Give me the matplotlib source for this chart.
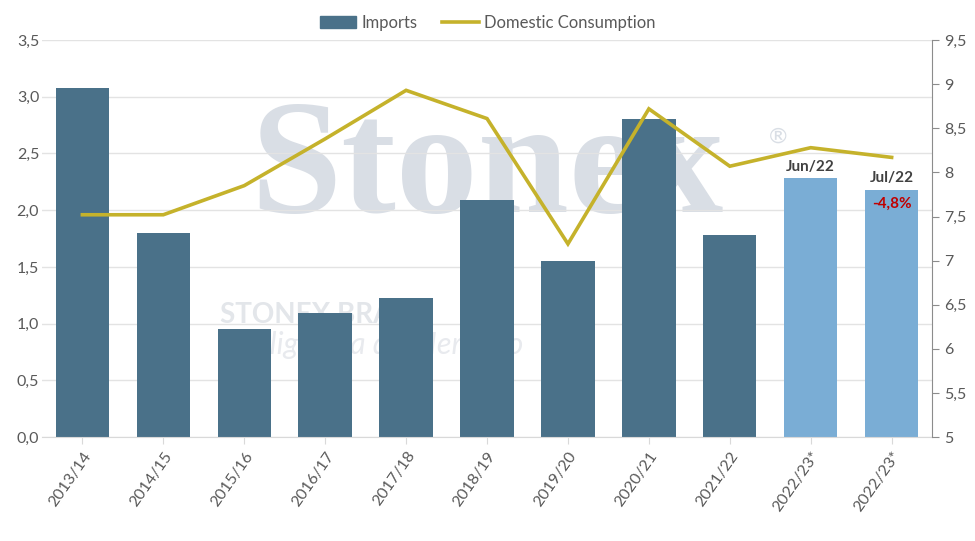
import numpy as np
import matplotlib.pyplot as plt
from matplotlib.patches import Patch
from matplotlib.lines import Line2D

plt.rcParams['font.family'] = ['Lato', 'DejaVu Sans']

seasons = ["2013/14", "2014/15", "2015/16", "2016/17", "2017/18", "2018/19",
           "2019/20", "2020/21", "2021/22", "2022/23*", "2022/23*"]
imports = [3.08, 1.80, 0.95, 1.09, 1.23, 2.09, 1.55, 2.80, 1.78, 2.28, 2.18]
consumption = [7.52, 7.52, 7.85, 8.38, 8.93, 8.61, 7.19, 8.72, 8.07, 8.28, 8.17]

dark = "#4a7189"
light = "#7aadd5"
gold = "#c5b22b"
grey = "#595959"

x = np.arange(len(seasons))
colors = [dark] * 9 + [light] * 2

fig = plt.figure(figsize=(9.75, 5.41), dpi=100)
ax = fig.add_axes([0.043, 0.192, 0.913, 0.734])
ax2 = ax.twinx()
ax.set_zorder(1)
ax2.set_zorder(2)
ax.patch.set_visible(False)

# watermark
ax.text(5.0, 2.33, "Stonex", family="Liberation Serif", fontweight="bold", fontsize=118,
        color="#d9dee5", ha="center", va="center", zorder=0.5)
ax.text(8.6, 2.65, "®", fontsize=16, color="#d9dee5", ha="center", va="center", zorder=0.5)
ax.text(1.7, 1.08, "STONEX BRASIL", fontsize=20, fontweight="bold", color="#e3e6ea",
        ha="left", va="center", zorder=0.5)
ax.text(1.7, 0.81, "Inteligência de Mercado", fontsize=22, style="italic", color="#e8eaee",
        ha="left", va="center", zorder=0.5)

ax.bar(x, imports, width=0.66, color=colors, zorder=2)
ax2.plot(x, consumption, color=gold, lw=2.6, solid_joinstyle="miter")

ax.set_xlim(-0.5, 10.5)
ax.set_ylim(0, 3.5)
ax2.set_ylim(5, 9.5)
ax.set_yticks(np.arange(0, 3.51, 0.5))
ax.set_yticklabels([f"{v:.1f}".replace(".", ",") for v in np.arange(0, 3.51, 0.5)])
rt = np.arange(5, 9.51, 0.5)
ax2.set_yticks(rt)
ax2.set_yticklabels([(f"{v:g}").replace(".", ",") for v in rt])

ax.grid(axis="y", color="#e3e3e3", lw=1, zorder=0)
ax.set_axisbelow(True)
ax.set_xticks(x)
ax.set_xticklabels(seasons, rotation=55, ha="right", rotation_mode="anchor")

for a in (ax, ax2):
    for s in ("top", "left"):
        a.spines[s].set_visible(False)
ax.spines["right"].set_visible(False)
ax2.spines["bottom"].set_visible(False)
ax.spines["bottom"].set_color("#d9d9d9")
ax2.spines["right"].set_color("#8c8c8c")

ax.tick_params(axis="x", colors="#d9d9d9", labelcolor=grey, labelsize=11.5, length=5)
ax.tick_params(axis="y", length=0, labelcolor=grey, labelsize=11.5, pad=2)
ax2.tick_params(axis="y", colors="#8c8c8c", labelcolor=grey, labelsize=11.5, length=5)

ax.text(9, imports[9] + 0.04, "Jun/22", ha="center", va="bottom", fontsize=11,
        fontweight="bold", color="#404040", zorder=3)
ax.text(10, imports[10] + 0.04, "Jul/22", ha="center", va="bottom", fontsize=11,
        fontweight="bold", color="#404040", zorder=3)
ax.text(10, imports[10] - 0.06, "-4,8%", ha="center", va="top", fontsize=11,
        fontweight="bold", color="#c00000", zorder=3)

handles = [Patch(color=dark), Line2D([0], [0], color=gold, lw=2.6)]
fig.legend(handles, ["Imports", "Domestic Consumption"], loc="center",
           bbox_to_anchor=(0.5, 0.958), ncol=2, frameon=False, fontsize=12,
           labelcolor=grey, handlelength=2.2, columnspacing=1.5, handletextpad=0.3)

fig.savefig("out.png", dpi=100)
